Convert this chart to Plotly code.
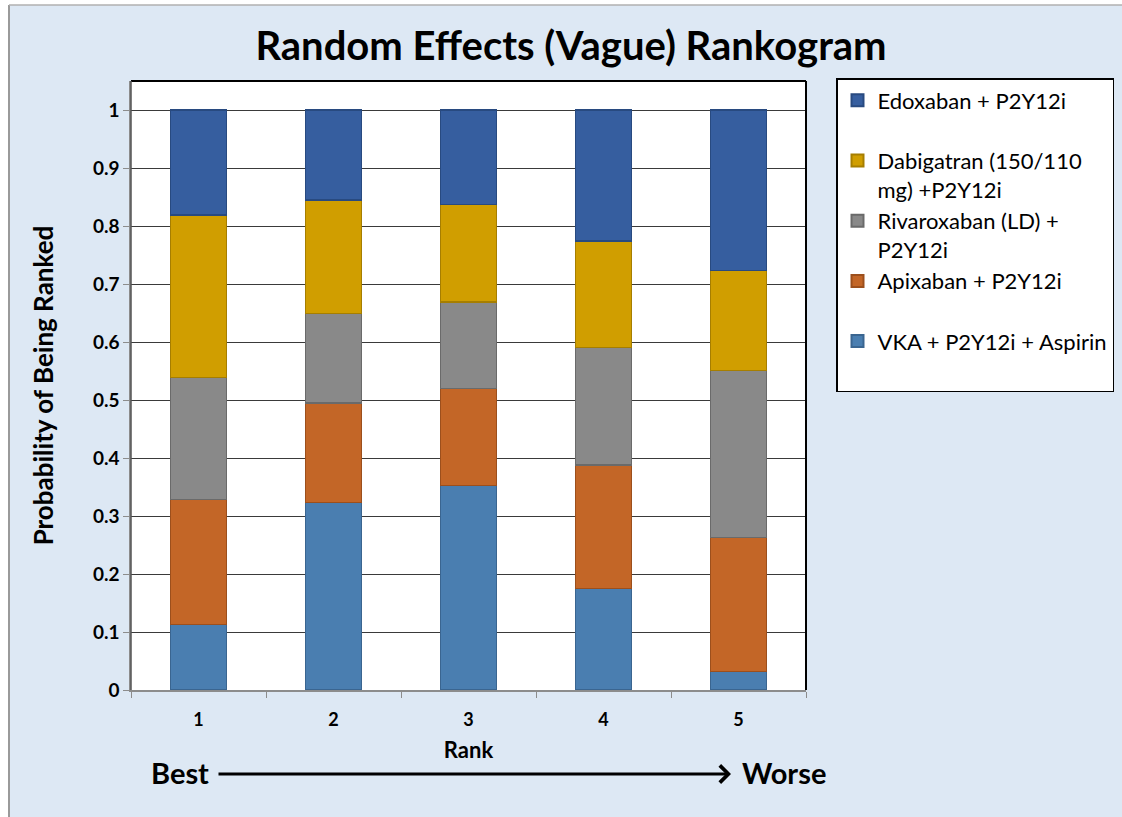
import plotly.graph_objects as go

ranks = ["1", "2", "3", "4", "5"]
tick_vals = [0, 0.1, 0.2, 0.3, 0.4, 0.5, 0.6, 0.7, 0.8, 0.9, 1]
tick_text = ["0", "0.1", "0.2", "0.3", "0.4", "0.5", "0.6", "0.7", "0.8", "0.9", "1"]

vka = [0.113, 0.323, 0.352, 0.175, 0.032]
apixaban = [0.215, 0.172, 0.168, 0.213, 0.231]
rivaroxaban = [0.211, 0.154, 0.149, 0.203, 0.288]
dabigatran = [0.280, 0.196, 0.168, 0.183, 0.172]
edoxaban = [0.181, 0.155, 0.163, 0.226, 0.277]

series = [
    ("VKA + P2Y12i + Aspirin", vka, "#4a7eb0", "#3a6590"),
    ("Apixaban + P2Y12i", apixaban, "#c36627", "#9c4f1c"),
    ("Rivaroxaban (LD) +<br>P2Y12i", rivaroxaban, "#898989", "#6a6a6a"),
    ("Dabigatran (150/110<br>mg) +P2Y12i", dabigatran, "#d09e00", "#a67e00"),
    ("Edoxaban + P2Y12i", edoxaban, "#365e9f", "#284a80"),
]

FONT = "Lato"

fig = go.Figure()
n = len(series)
for i, (name, vals, col, edge) in enumerate(series):
    label = name if "<br>" in name else name + "<br> "
    fig.add_trace(go.Bar(
        x=ranks, y=vals, name=label,
        marker=dict(color=col, line=dict(color=edge, width=1.2)),
        legendgroup=f"g{i}",
        legendrank=n - i,
    ))

fig.update_layout(
    barmode="stack",
    bargap=0.59,
    width=1122, height=817,
    margin=dict(l=131, r=316, t=81, b=127, autoexpand=False),
    paper_bgcolor="#dde8f4",
    plot_bgcolor="white",
    font=dict(family=FONT, color="black"),
    title=dict(text="<b>Random Effects (Vague) Rankogram</b>",
               x=571 / 1122, xanchor="center", y=1 - 46 / 817, yanchor="middle",
               font=dict(size=40, family=FONT, color="black")),
    showlegend=True,
    legend=dict(
        x=(836 - 131) / 675, xanchor="left",
        y=(690 - 78) / 609, yanchor="top",
        bgcolor="white", bordercolor="black", borderwidth=1.5,
        font=dict(size=22, family=FONT, color="black"),
        traceorder="grouped",
        tracegroupgap=0,
        valign="top",
        itemsizing="constant",
    ),
    xaxis=dict(
        title=dict(text="<b>Rank</b>", font=dict(size=22, family=FONT), standoff=13),
        tickfont=dict(size=18, family=FONT),
        tickprefix="<b>", ticksuffix="</b>",
        ticklabelstandoff=13,
        showline=True, linecolor="#8c8c8c", linewidth=1.5,
        ticks="outside", ticklen=6, tickcolor="#8c8c8c",
        tickson="boundaries",
        showgrid=False,
    ),
    yaxis=dict(
        title=dict(text="<b>Probability of Being Ranked</b>", font=dict(size=26, family=FONT), standoff=32),
        range=[0, 1.05],
        tickvals=tick_vals, ticktext=[f"<b>{t}</b>" for t in tick_text],
        tickfont=dict(size=19, family=FONT),
        showgrid=True, gridcolor="#3a3a3a", gridwidth=1.2,
        showline=True, linecolor="#8c8c8c", linewidth=1.5,
        ticks="outside", ticklen=6, tickcolor="#8c8c8c",
        zeroline=False,
    ),
    shapes=[
        dict(type="rect", xref="paper", yref="paper",
             x0=(0 - 131) / 675, x1=(8 - 131) / 675, y0=(690 - 817) / 609, y1=(690 - 0) / 609,
             fillcolor="white", line=dict(width=0), layer="below"),
        dict(type="rect", xref="paper", yref="paper",
             x0=(0 - 131) / 675, x1=(1122 - 131) / 675, y0=(690 - 5) / 609, y1=(690 - 0) / 609,
             fillcolor="white", line=dict(width=0), layer="below"),
        dict(type="line", xref="paper", yref="paper",
             x0=(9 - 131) / 675, x1=(9 - 131) / 675, y0=(690 - 817) / 609, y1=(690 - 5) / 609,
             line=dict(color="#9a9a9a", width=2), layer="below"),
        dict(type="line", xref="paper", yref="paper",
             x0=(9 - 131) / 675, x1=(1122 - 131) / 675, y0=(690 - 5) / 609, y1=(690 - 5) / 609,
             line=dict(color="#b0b0b0", width=1.5), layer="below"),
        dict(type="line", xref="paper", yref="paper", x0=0, x1=1, y0=1, y1=1,
             line=dict(color="black", width=2)),
        dict(type="line", xref="paper", yref="paper", x0=1, x1=1, y0=0, y1=1,
             line=dict(color="black", width=2)),
        dict(type="line", xref="paper", yref="paper", x0=0, x1=0, y0=0, y1=1,
             line=dict(color="#555555", width=1.5)),
    ],
    annotations=[
        dict(text="<b>Best</b>", xref="paper", yref="paper",
             x=(180 - 131) / 675, y=(690 - 772) / 609, xanchor="center", yanchor="middle",
             showarrow=False, font=dict(size=29, family=FONT, color="black")),
        dict(text="<b>Worse</b>", xref="paper", yref="paper",
             x=(784 - 131) / 675, y=(690 - 772) / 609, xanchor="center", yanchor="middle",
             showarrow=False, font=dict(size=29, family=FONT, color="black")),
        dict(text="", xref="paper", yref="paper", axref="pixel", ayref="pixel",
             x=(731 - 131) / 675, y=(690 - 774) / 609,
             ax=-(731 - 217), ay=0,
             showarrow=True, arrowhead=4, arrowsize=1.1, arrowwidth=3, arrowcolor="black"),
    ],
)

fig.write_html("out.html", config={"displayModeBar": False},
               post_script="document.body.style.margin='0';document.body.style.overflow='hidden';")
